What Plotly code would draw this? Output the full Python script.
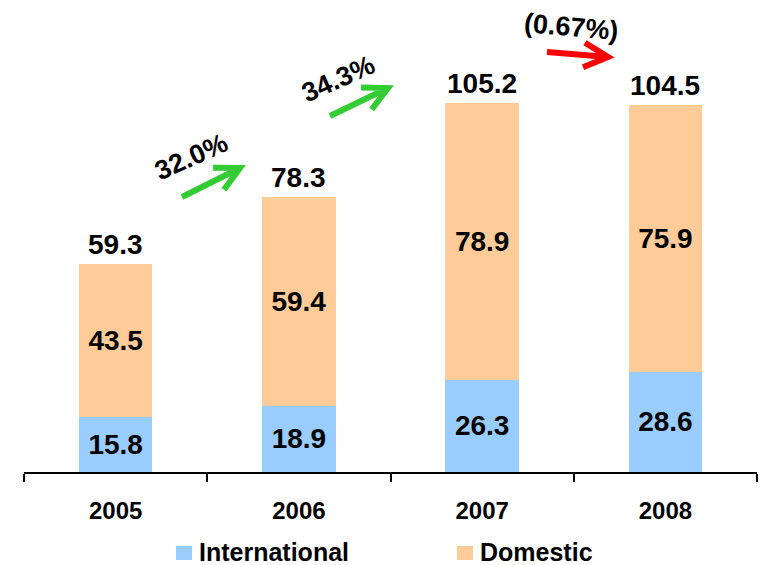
import math
import plotly.graph_objects as go

# Data: revenue split by segment
years = ["2005", "2006", "2007", "2008"]
international = [15.8, 18.9, 26.3, 28.6]
domestic = [43.5, 59.4, 78.9, 75.9]
totals = [59.3, 78.3, 105.2, 104.5]
growth_labels = ["32.0%", "34.3%", "(0.67%)"]
series_names = ["International", "Domestic"]

BLUE = "#99CCFF"
ORANGE = "#FFCC99"
GREEN = "#33CC33"
RED = "#FF0000"
FONT = "Liberation Sans, Arial, sans-serif"

W, H = 760, 565
M_L, M_R, M_T, M_B = 24, 3, 10, 93
PLOT_W = W - M_L - M_R
PLOT_H = H - M_T - M_B
Y_MAX = 131.7


def px(x, y):
    """Pixel position on the page -> paper coordinates."""
    return (x - M_L) / PLOT_W, (H - M_B - y) / PLOT_H


def arrow_path(tail, tip, head_len=27, head_deg=27):
    """Shaft plus an open chevron head, drawn in paper coordinates."""
    dx, dy = tail[0] - tip[0], tail[1] - tip[1]
    base = math.atan2(dy, dx)
    pts = []
    for s in (1, -1):
        a = base + s * math.radians(head_deg)
        pts.append((tip[0] + head_len * math.cos(a), tip[1] + head_len * math.sin(a)))
    t = px(*tail)
    p = px(*tip)
    a1 = px(*pts[0])
    a2 = px(*pts[1])
    return (f"M{t[0]},{t[1]} L{p[0]},{p[1]} "
            f"M{a1[0]},{a1[1]} L{p[0]},{p[1]} L{a2[0]},{a2[1]}")


fig = go.Figure()
for name, vals, color in [(series_names[0], international, BLUE),
                          (series_names[1], domestic, ORANGE)]:
    fig.add_bar(
        x=years, y=vals, name=name,
        marker=dict(color=color, line=dict(width=0)),
        text=[f"{v:.1f}" for v in vals],
        textposition="inside", insidetextanchor="middle",
        textfont=dict(family=FONT, size=28, color="black", weight="bold"),
        showlegend=False,
    )

annotations = []
# Stack totals above each bar
for i, tot in enumerate(totals):
    annotations.append(dict(
        x=i, y=tot, xref="x", yref="y", text=f"{tot:.1f}",
        showarrow=False, yanchor="bottom", yshift=2,
        font=dict(family=FONT, size=28, color="black", weight="bold"),
    ))

# Year-over-year growth callouts
callouts = [
    (growth_labels[0], (191, 157), -24, (182, 197), (240, 168), GREEN),
    (growth_labels[1], (338, 79), -24, (330, 116), (388, 88), GREEN),
    (growth_labels[2], (571, 27), 5, (547, 52), (608, 57), RED),
]
shapes = []
for label, center, angle, tail, tip, color in callouts:
    cx, cy = px(*center)
    annotations.append(dict(
        x=cx, y=cy, xref="paper", yref="paper", text=label,
        showarrow=False, textangle=angle, xanchor="center", yanchor="middle",
        font=dict(family=FONT, size=27, color="black", weight="bold"),
    ))
    shapes.append(dict(
        type="path", xref="paper", yref="paper",
        path=arrow_path(tail, tip), line=dict(color=color, width=6),
    ))

# Legend: colour swatch followed by series name
for name, color, left in [(series_names[0], BLUE, 176), (series_names[1], ORANGE, 457)]:
    x0, y0 = px(left, 560)
    x1, y1 = px(left + 16, 546)
    shapes.append(dict(type="rect", xref="paper", yref="paper",
                       x0=x0, y0=y0, x1=x1, y1=y1,
                       fillcolor=color, line=dict(width=0)))
    tx, ty = px(left + 22, 552)
    annotations.append(dict(
        x=tx, y=ty, xref="paper", yref="paper", text=name,
        showarrow=False, xanchor="left", yanchor="middle",
        height=24, borderpad=0,
        font=dict(family=FONT, size=25, color="black", weight="bold"),
    ))

fig.update_layout(
    width=W, height=H,
    margin=dict(l=M_L, r=M_R, t=M_T, b=M_B),
    paper_bgcolor="white", plot_bgcolor="white",
    barmode="stack", bargap=0.6,
    showlegend=False,
    xaxis=dict(
        type="category", range=[-0.5, 3.5],
        showline=True, linecolor="black", linewidth=2,
        ticks="outside", tickson="boundaries", ticklen=8,
        tickwidth=2, tickcolor="black",
        tickfont=dict(family=FONT, size=24, color="black", weight="bold"),
        ticklabelstandoff=16, showgrid=False, zeroline=False,
    ),
    yaxis=dict(range=[0, Y_MAX], visible=False, showgrid=False),
    annotations=annotations,
    shapes=shapes,
    uniformtext=dict(mode="show", minsize=10),
)

fig.write_html("out.html")
